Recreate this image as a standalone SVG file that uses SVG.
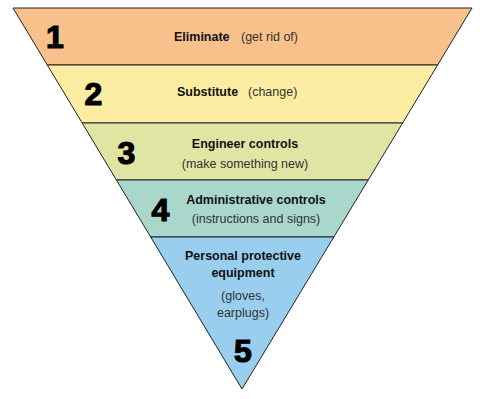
<svg xmlns="http://www.w3.org/2000/svg" width="486" height="399" viewBox="0 0 486 399">
<style>
.band{stroke:#222;stroke-width:1}
.num{font-family:"Liberation Sans",Arial,sans-serif;font-weight:bold;font-size:32px;fill:#000;stroke:#000;stroke-width:1.2;text-anchor:middle}
.b{font-family:"Liberation Sans",Arial,sans-serif;font-weight:bold;font-size:12.5px;fill:#111}
.r{font-family:"Liberation Sans",Arial,sans-serif;font-size:12.5px;fill:#333}
.c{text-anchor:middle}
</style>
<rect width="486" height="399" fill="#fff"/>
<g id="level1">
<polygon class="band" points="13,8 472,8 437.6,65 47.3,65" fill="#F8C08B"/>
<text class="num" x="55" y="48">1</text>
<text class="b" x="174" y="41">Eliminate</text>
<text class="r" x="241" y="41">(get rid of)</text>
</g>
<g id="level2">
<polygon class="band" points="47.3,65 437.6,65 402.6,123 82.2,123" fill="#FDEDA2"/>
<text class="num" x="93.5" y="105">2</text>
<text class="b" x="177" y="96">Substitute</text>
<text class="r" x="248" y="96">(change)</text>
</g>
<g id="level3">
<polygon class="band" points="82.2,123 402.6,123 368.2,180 116.4,180" fill="#E1E5A3"/>
<text class="num" x="126.5" y="164">3</text>
<text class="b c" x="245" y="148">Engineer controls</text>
<text class="r c" x="245" y="168">(make something new)</text>
</g>
<g id="level4">
<polygon class="band" points="116.4,180 368.2,180 333.8,237 150.7,237" fill="#A9D7CB"/>
<text class="num" x="160.5" y="221">4</text>
<text class="b c" x="256" y="204">Administrative controls</text>
<text class="r c" x="256" y="223">(instructions and signs)</text>
</g>
<g id="level5">
<polygon class="band" points="150.7,237 333.8,237 242,389" fill="#99CEEF"/>
<text class="b c" x="243" y="260">Personal protective</text>
<text class="b c" x="243" y="277">equipment</text>
<text class="r c" x="243" y="300">(gloves,</text>
<text class="r c" x="243" y="317">earplugs)</text>
<text class="num" x="243" y="362">5</text>
</g>
<g id="connectors"/>
</svg>
